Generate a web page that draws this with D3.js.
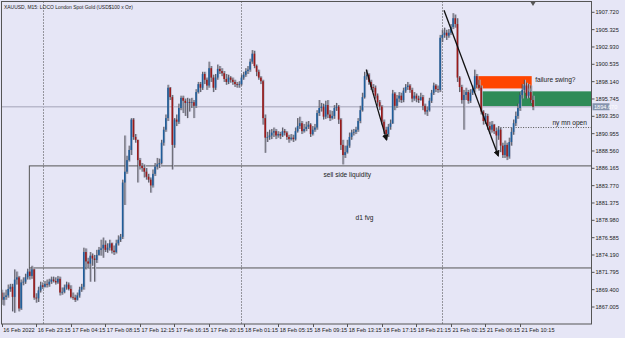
<!DOCTYPE html>
<html>
<head>
<meta charset="utf-8">
<script src="https://cdn.jsdelivr.net/npm/d3@7"></script>
<style>
  html, body { margin: 0; padding: 0; background: #e6e6f6; }
  svg { display: block; }
  text { font-family: "Liberation Sans", Arial, sans-serif; fill: #222; }
</style>
</head>
<body>
<svg width="625" height="338"></svg>
<script>
(function () {

    // XAUUSD M15, one value per bar (open of a bar = close of the bar before)
    var firstOpen = 1869.0;

    var closes = [
        1868.0,1868.4,1868.6,1869.5,1869.8,1868.4,1870.8,1871.1,1866.8,1870.4,
        1870.5,1871.1,1871.9,1871.3,1872.2,1868.3,1868.2,1869.3,1870.0,1869.8,
        1870.2,1870.1,1870.5,1870.8,1870.6,1870.4,1870.9,1869.0,1869.1,1869.7,
        1870.1,1869.5,1868.4,1868.3,1868.0,1868.6,1869.4,1869.8,1874.6,1873.3,
        1873.0,1874.1,1873.7,1873.5,1874.2,1874.9,1875.1,1875.6,1874.9,1875.2,
        1875.8,1874.8,1874.6,1875.8,1876.3,1876.7,1884.2,1885.7,1887.3,1888.7,
        1892.9,1890.5,1890.1,1887.3,1886.5,1886.2,1885.7,1885.0,1884.6,1883.8,
        1885.4,1886.4,1886.7,1886.9,1889.7,1891.5,1893.1,1897.3,1896.0,1889.4,
        1892.9,1892.6,1894.5,1895.9,1895.5,1895.2,1895.3,1895.2,1895.3,1894.8,
        1896.7,1897.8,1897.3,1899.2,1898.4,1897.6,1900.0,1898.7,1897.3,1898.7,
        1899.9,1899.6,1899.3,1898.5,1898.1,1898.7,1898.4,1898.1,1897.8,1897.7,
        1897.8,1898.7,1899.1,1899.6,1899.8,1900.9,1902.0,1900.3,1899.5,1898.7,
        1898.2,1893.1,1890.4,1890.5,1890.7,1891.1,1891.3,1890.7,1890.9,1890.7,
        1891.3,1891.1,1890.5,1890.2,1890.4,1890.2,1891.3,1892.0,1892.4,1891.3,
        1891.6,1891.9,1892.2,1890.9,1891.5,1891.8,1893.8,1894.5,1894.7,1893.3,
        1894.9,1893.6,1893.1,1893.4,1894.5,1894.7,1892.9,1889.4,1888.0,1888.4,
        1889.3,1890.5,1891.1,1891.2,1891.5,1892.7,1894.2,1896.0,1898.9,1899.1,
        1898.1,1897.4,1897.3,1896.2,1895.3,1894.7,1892.6,1891.5,1890.9,1891.9,
        1892.4,1896.5,1894.8,1895.8,1896.2,1895.6,1896.9,1897.4,1897.6,1897.0,
        1895.8,1896.2,1895.8,1895.6,1896.0,1894.8,1894.0,1894.2,1895.5,1896.6,
        1897.6,1897.1,1897.0,1904.2,1904.6,1904.9,1904.5,1904.9,1905.7,1906.9,
        1906.1,1898.7,1897.4,1895.6,1896.3,1896.7,1895.5,1896.6,1897.1,1898.9,
        1897.7,1897.3,1894.0,1892.7,1893.4,1892.0,1891.5,1892.2,1891.3,1890.7,
        1891.5,1889.3,1888.0,1889.4,1887.8,1889.8,1891.2,1892.4,1893.4,1894.5,
        1896.3,1897.0,1897.6,1896.2,1896.7,1895.6,1894.67
    ];

    var highs = [
        1869.4,1869.0,1869.4,1870.1,1870.2,1870.2,1872.2,1871.9,1871.3,1870.8,
        1871.1,1871.6,1872.3,1872.4,1872.7,1872.3,1868.9,1869.8,1870.5,1870.4,
        1870.6,1870.8,1870.9,1871.2,1871.2,1871.1,1871.3,1871.2,1869.7,1870.1,
        1870.5,1870.4,1870.0,1869.0,1868.7,1869.0,1869.8,1870.2,1875.2,1875.1,
        1873.8,1874.6,1874.4,1874.2,1874.9,1875.3,1876.3,1876.6,1876.2,1875.8,
        1876.3,1875.9,1875.5,1876.3,1876.9,1877.1,1884.6,1890.7,1887.9,1889.3,
        1893.1,1893.1,1890.9,1890.1,1887.6,1886.9,1886.7,1886.2,1885.4,1884.9,
        1886.0,1886.9,1887.6,1887.5,1890.1,1891.9,1893.6,1897.7,1897.4,1896.3,
        1893.1,1893.6,1895.1,1896.2,1896.2,1895.8,1895.9,1895.8,1895.9,1895.6,
        1897.1,1898.1,1898.1,1899.5,1899.5,1898.7,1900.9,1900.3,1899.1,1899.2,
        1900.5,1900.3,1900.0,1899.6,1899.2,1899.1,1898.9,1898.7,1898.4,1898.1,
        1898.2,1899.1,1899.5,1900.0,1900.3,1901.3,1902.5,1902.4,1900.5,1899.8,
        1898.9,1898.4,1893.6,1891.2,1891.5,1891.6,1891.8,1891.6,1891.3,1891.2,
        1891.8,1891.6,1891.3,1890.8,1890.9,1890.8,1891.8,1893.1,1893.3,1892.7,
        1892.3,1892.6,1892.7,1892.4,1892.0,1892.3,1894.2,1895.6,1895.2,1895.1,
        1895.5,1895.6,1894.2,1894.1,1894.9,1895.2,1894.9,1893.1,1890.1,1889.3,
        1890.1,1891.1,1891.5,1891.6,1891.9,1893.1,1894.8,1896.6,1899.5,1899.8,
        1899.3,1898.4,1897.8,1897.6,1896.5,1895.6,1894.9,1892.9,1891.9,1892.3,
        1892.9,1897.0,1896.7,1896.3,1896.7,1896.6,1897.3,1897.8,1898.1,1897.8,
        1897.3,1896.7,1896.5,1896.2,1896.6,1896.3,1895.1,1894.7,1895.9,1897.0,
        1898.0,1897.8,1897.6,1904.6,1905.3,1905.6,1905.3,1905.4,1906.1,1907.6,
        1907.4,1906.9,1898.9,1897.7,1897.0,1897.3,1897.0,1897.1,1897.6,1899.8,
        1899.2,1898.4,1897.6,1894.2,1893.8,1893.7,1892.6,1892.7,1892.3,1891.8,
        1892.0,1891.8,1889.7,1890.0,1889.7,1890.4,1891.8,1892.9,1894.0,1895.1,
        1896.7,1897.8,1898.4,1898.0,1897.8,1897.6,1896.2
    ];

    var lows = [
        1867.3,1867.2,1868.0,1868.3,1869.1,1866.4,1866.2,1870.1,1866.4,1866.6,
        1870.0,1870.2,1870.8,1870.8,1870.9,1868.0,1867.6,1867.7,1869.0,1869.5,
        1869.7,1869.7,1869.8,1870.2,1870.4,1870.1,1870.2,1868.6,1868.7,1868.9,
        1869.4,1869.3,1868.2,1868.0,1867.7,1867.9,1868.3,1869.1,1869.4,1872.2,
        1872.4,1870.5,1872.7,1870.5,1873.1,1874.1,1874.1,1873.8,1874.6,1874.5,
        1874.8,1874.4,1874.2,1874.4,1875.5,1876.0,1876.4,1881.1,1885.4,1887.1,
        1888.0,1890.1,1889.7,1884.2,1886.0,1885.7,1884.9,1884.6,1884.2,1882.8,
        1883.5,1885.1,1886.0,1886.2,1886.7,1889.3,1891.2,1892.7,1895.6,1886.0,
        1889.0,1892.0,1892.3,1894.2,1893.8,1893.4,1893.1,1894.0,1894.5,1893.1,
        1894.5,1896.5,1896.7,1897.0,1897.8,1897.0,1897.3,1898.1,1896.7,1897.0,
        1898.4,1899.2,1898.9,1898.1,1897.7,1897.8,1898.0,1897.7,1897.4,1897.3,
        1897.3,1897.6,1898.4,1898.8,1899.2,1899.5,1900.6,1900.0,1898.9,1898.4,
        1897.8,1892.2,1888.3,1889.8,1890.1,1890.2,1890.5,1890.2,1890.4,1890.2,
        1890.5,1890.7,1890.1,1889.7,1890.0,1889.8,1890.0,1891.1,1891.6,1890.9,
        1891.1,1891.3,1891.6,1890.5,1890.7,1891.2,1891.5,1893.4,1894.0,1892.9,
        1893.0,1893.1,1892.7,1892.9,1893.0,1894.1,1892.3,1888.7,1886.7,1887.6,
        1888.2,1889.0,1890.1,1890.7,1890.9,1891.2,1892.4,1894.0,1895.8,1898.4,
        1897.7,1897.0,1896.7,1895.8,1894.8,1894.2,1892.2,1890.9,1890.1,1890.5,
        1891.5,1892.3,1894.2,1894.5,1895.3,1895.2,1895.3,1896.6,1897.0,1896.6,
        1895.3,1895.5,1895.3,1895.2,1895.5,1894.2,1893.6,1893.4,1894.0,1895.2,
        1896.3,1896.7,1896.6,1896.7,1903.6,1904.2,1903.9,1904.2,1904.6,1905.4,
        1905.6,1898.1,1896.7,1895.1,1891.5,1895.6,1895.1,1895.2,1896.3,1896.7,
        1897.3,1896.9,1893.6,1892.2,1892.3,1891.5,1890.9,1891.1,1890.9,1888.7,
        1890.1,1888.4,1887.6,1887.6,1887.3,1887.5,1889.3,1890.8,1892.0,1893.0,
        1894.1,1895.8,1896.6,1895.8,1895.9,1895.2,1894.2
    ];

    var timeLabels = ["16 Feb 2022", "16 Feb 23:15", "17 Feb 04:15", "17 Feb 08:15",
        "17 Feb 12:15", "17 Feb 16:15", "17 Feb 20:15", "18 Feb 01:15", "18 Feb 05:15",
        "18 Feb 09:15", "18 Feb 13:15", "18 Feb 17:15", "18 Feb 21:15", "21 Feb 02:15",
        "21 Feb 06:15", "21 Feb 10:15"];
    var barsPerLabel = 16;

    var priceTicks = [1907.720, 1905.325, 1902.930, 1900.535, 1898.140, 1895.745,
        1893.350, 1890.955, 1888.560, 1886.165, 1883.770, 1881.375, 1878.980,
        1876.585, 1874.190, 1871.795, 1869.400, 1867.005];

    var daySeparators = [19, 111, 204];   // first bar of 17, 18 and 21 Feb
    var lastPrice = 1894.67;

    // drawn objects, in bar index / price terms
    var zones = [
        {from: 219, to: 245.4, top: 1898.9, bottom: 1897.2, color: "#ff4500"},
        {from: 222.2, to: 290, top: 1896.8, bottom: 1894.7, color: "#2e8b57"}
    ];
    var fvgBox = {from: 12.8, to: 290, top: 1886.5, bottom: 1872.4};
    var nyOpen = {from: 231, price: 1891.8};
    var arrows = [
        {x1: 168.8, p1: 1899.8, x2: 178.2, p2: 1890.1},
        {x1: 204.8, p1: 1908.0, x2: 229.9, p2: 1887.9}
    ];
    var notes = [
        {text: "sell side liquidity", bar: 160, price: 1885.3, anchor: "middle"},
        {text: "d1 fvg", bar: 168, price: 1879.3, anchor: "middle"},
        {text: "failure swing?", bar: 247, price: 1898.4, anchor: "start"},
        {text: "ny mn open", bar: 255, price: 1892.4, anchor: "start"}
    ];

    var svg = d3.select("svg"),
        left = 1.5, right = 591.5, top = 1.5, bottom = 324;

    var x = d3.scaleLinear().domain([0, closes.length - 1]).range([1.7, 533]);
    var y = d3.scaleLinear().domain([1867.005, 1907.72]).range([307, 12.3]);

    var bars = closes.map(function (c, i) {
        var o = i === 0 ? firstOpen : closes[i - 1];
        return {i: i, o: o, c: c, h: Math.max(highs[i], o, c), l: Math.min(lows[i], o, c)};
    });

    svg.append("rect").attr("width", 625).attr("height", 338).attr("fill", "#e6e6f6");

    svg.append("clipPath").attr("id", "plot")
        .append("rect").attr("x", left).attr("y", top)
        .attr("width", right - left).attr("height", bottom - top);

    var plot = svg.append("g").attr("clip-path", "url(#plot)");

    // day separators
    plot.selectAll(".sep").data(daySeparators).enter().append("line")
        .attr("x1", d => Math.round(x(d)) + 0.5).attr("x2", d => Math.round(x(d)) + 0.5)
        .attr("y1", top).attr("y2", bottom)
        .attr("stroke", "#444").attr("stroke-dasharray", "1,2");

    // zones behind the candles
    plot.selectAll(".zone").data(zones).enter().append("rect")
        .attr("x", d => x(d.from)).attr("width", d => x(d.to) - x(d.from))
        .attr("y", d => y(d.top)).attr("height", d => y(d.bottom) - y(d.top))
        .attr("fill", d => d.color);

    // bid line
    plot.append("line")
        .attr("x1", left).attr("x2", right)
        .attr("y1", y(lastPrice)).attr("y2", y(lastPrice))
        .attr("stroke", "#b9b9cc").attr("stroke-width", 1.5);

    plot.append("rect")
        .attr("x", x(fvgBox.from)).attr("width", x(fvgBox.to) - x(fvgBox.from))
        .attr("y", y(fvgBox.top)).attr("height", y(fvgBox.bottom) - y(fvgBox.top))
        .attr("fill", "none").attr("stroke", "#555").attr("stroke-width", 1);

    plot.append("line")
        .attr("x1", x(nyOpen.from)).attr("x2", right)
        .attr("y1", y(nyOpen.price)).attr("y2", y(nyOpen.price))
        .attr("stroke", "#555").attr("stroke-dasharray", "1,1.5");

    // candles
    var candle = plot.selectAll(".candle").data(bars).enter().append("g");

    candle.append("line")
        .attr("x1", d => x(d.i) + 0.9).attr("x2", d => x(d.i) + 0.9)
        .attr("y1", d => y(d.h)).attr("y2", d => y(d.l))
        .attr("stroke", "#b4b4c6").attr("stroke-width", 1.4);

    candle.append("line")
        .attr("x1", d => x(d.i)).attr("x2", d => x(d.i))
        .attr("y1", d => y(d.h)).attr("y2", d => y(d.l))
        .attr("stroke", "#3c3c44").attr("stroke-width", 0.8);

    candle.append("rect")
        .attr("x", d => x(d.i) - 0.8).attr("width", 1.6)
        .attr("y", d => y(Math.max(d.o, d.c)))
        .attr("height", d => Math.max(0.8, Math.abs(y(d.o) - y(d.c))))
        .attr("fill", d => d.c >= d.o ? "#1f5d9a" : "#9a1a1a");

    // arrows
    svg.append("defs").append("marker")
        .attr("id", "head").attr("viewBox", "0 0 10 10")
        .attr("refX", 8).attr("refY", 5)
        .attr("markerWidth", 5).attr("markerHeight", 5)
        .attr("orient", "auto")
        .append("path").attr("d", "M0,0L10,5L0,10z").attr("fill", "#111");

    plot.selectAll(".arrow").data(arrows).enter().append("line")
        .attr("x1", d => x(d.x1)).attr("y1", d => y(d.p1))
        .attr("x2", d => x(d.x2)).attr("y2", d => y(d.p2))
        .attr("stroke", "#111").attr("stroke-width", 1.3)
        .attr("marker-end", "url(#head)");

    plot.selectAll(".note").data(notes).enter().append("text")
        .attr("x", d => x(d.bar)).attr("y", d => y(d.price))
        .attr("dy", "0.35em")
        .attr("text-anchor", d => d.anchor)
        .attr("font-size", 6.6)
        .text(d => d.text);

    // frame
    svg.append("rect")
        .attr("x", left).attr("y", top)
        .attr("width", right - left).attr("height", bottom - top)
        .attr("fill", "none").attr("stroke", "#555");

    svg.append("text").attr("x", 4).attr("y", 9)
        .attr("font-size", 5.6)
        .attr("textLength", 129).attr("lengthAdjust", "spacingAndGlyphs")
        .text("XAUUSD, M15:  LOCO London Spot Gold (USD$100 x Oz)");

    // shift marker
    svg.append("path")
        .attr("d", "M" + (x(closes.length - 1) - 2.5) + ",2L" + (x(closes.length - 1) + 2.5) + ",2L" + x(closes.length - 1) + ",6z")
        .attr("fill", "#555");

    // price axis
    var pAxis = svg.append("g");
    pAxis.selectAll("line").data(priceTicks).enter().append("line")
        .attr("x1", right).attr("x2", right + 3)
        .attr("y1", d => y(d)).attr("y2", d => y(d))
        .attr("stroke", "#555");
    pAxis.selectAll("text").data(priceTicks).enter().append("text")
        .attr("x", right + 4).attr("y", d => y(d)).attr("dy", "0.35em")
        .attr("font-size", 5.6)
        .text(d => d3.format(".3f")(d));

    pAxis.append("rect")
        .attr("x", right + 1).attr("y", y(lastPrice) - 3.5)
        .attr("width", 17).attr("height", 7)
        .attr("fill", "#8593ad");
    pAxis.append("text")
        .attr("x", right + 2.5).attr("y", y(lastPrice)).attr("dy", "0.35em")
        .attr("font-size", 5.6).style("fill", "#fff")
        .text(d3.format(".3f")(lastPrice));

    // time axis
    var tAxis = svg.append("g");
    tAxis.selectAll("line").data(timeLabels).enter().append("line")
        .attr("x1", (d, i) => Math.round(x(i * barsPerLabel)) + 0.5)
        .attr("x2", (d, i) => Math.round(x(i * barsPerLabel)) + 0.5)
        .attr("y1", bottom).attr("y2", bottom + 3)
        .attr("stroke", "#555");
    tAxis.selectAll("text").data(timeLabels).enter().append("text")
        .attr("x", (d, i) => x(i * barsPerLabel) + 1.5)
        .attr("y", bottom + 7.5)
        .attr("font-size", 5.6)
        .text(d => d);

})();
</script>
</body>
</html>
